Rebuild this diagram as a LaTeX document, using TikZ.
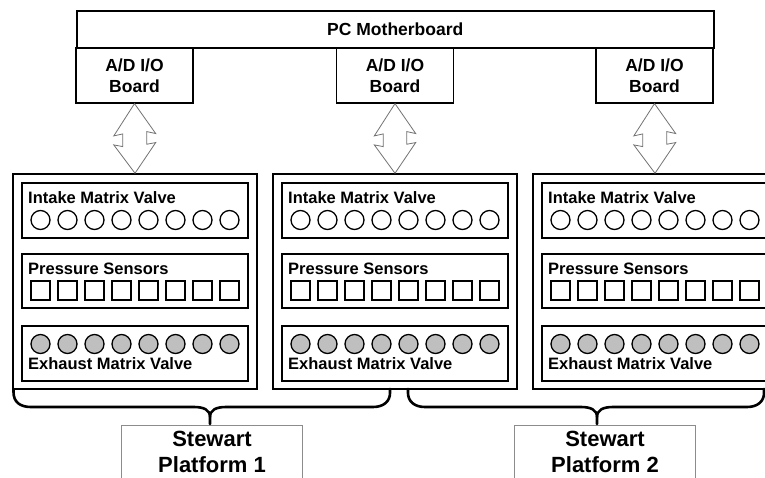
\documentclass[tikz,border=0pt]{standalone}
\usepackage{fontspec}
\setmainfont{Liberation Sans}
\begin{document}
\begin{tikzpicture}[x=1pt,y=-1pt,
  box/.style={draw, line width=1.6pt, inner sep=0pt, align=center},
  mbfont/.style={font=\bfseries\fontsize{17.5}{21}\selectfont},
  outerbox/.style={draw, line width=1.5pt, inner sep=0pt, minimum width=244pt, minimum height=215pt},
  innerbox/.style={draw, line width=1.6pt, inner sep=0pt, minimum width=226pt},
  lbl/.style={inner sep=0pt, anchor=west, font=\bfseries\fontsize{16.5}{20}\selectfont},
  valve/.style={circle, draw, line width=1.3pt, inner sep=0pt, minimum size=19pt},
  exvalve/.style={valve, fill=black!25},
  sensor/.style={draw, line width=1.3pt, inner sep=0pt, minimum size=19pt},
  dbl/.style={draw=black!55, line width=0.8pt, line join=miter},
  brace/.style={draw, line width=2.6pt, line cap=round, line join=round},
  spbox/.style={draw=black!45, line width=0.8pt, inner sep=0pt, align=center,
    minimum width=181pt, minimum height=54pt, anchor=north,
    font=\bfseries\fontsize{22}{26}\selectfont}
]
\clip (0,0) rectangle (765,477);
\fill[white] (0,0) rectangle (765,477);

% PC motherboard and A/D boards
\node[box, mbfont, minimum width=637pt, minimum height=37pt, anchor=north west] (mb) at (76,10) {PC Motherboard};
\foreach \p/\cx in {1/134.5,2/395,3/654.5} {
  \node[box, mbfont, minimum width=117pt, minimum height=55pt, anchor=north] (ad\p) at (\cx,47) {A/D I/O\\Board};
}

% platforms
\foreach \p/\cx in {1/135,2/395,3/655} {
  \node[outerbox] (p\p) at (\cx,281.5) {};
  \node[innerbox, minimum height=55pt] (in\p) at (\cx,210.5) {};
  \node[innerbox, minimum height=54pt] (ps\p) at (\cx,281) {};
  \node[innerbox, minimum height=55pt] (ex\p) at (\cx,353.5) {};
  \node[lbl] (inl\p) at (\cx-107,198) {Intake Matrix Valve};
  \node[lbl] (psl\p) at (\cx-107,269) {Pressure Sensors};
  \node[lbl] (exl\p) at (\cx-107,364) {Exhaust Matrix Valve};
  \foreach \i in {0,...,7} {
    \node[valve] (iv\p-\i) at (\cx-94.5+27*\i,220) {};
    \node[sensor] (s\p-\i) at (\cx-94.5+27*\i,290.5) {};
    \node[exvalve] (ev\p-\i) at (\cx-94.5+27*\i,344) {};
  }
  \draw[dbl] (ad\p.south) -- ++(-20.7,32.3) -- ++(9,-2) -- ++(0,12.7) -- ++(-9,-1.7)
     -- (p\p.north) -- ++(20.7,-30.7) -- ++(-9,1.7) -- ++(0,-12.7) -- ++(9,2) -- cycle;
}

% Stewart platform boxes
\node[spbox] (sp1) at (212,425) {Stewart\\Platform 1};
\node[spbox] (sp2) at (605,425) {Stewart\\Platform 2};

% braces
\coordinate (b1s) at (13.5,389);
\coordinate (b1e) at (390,389);
\coordinate (b1m) at (210,417);
\coordinate (b1t) at (210,424);
\coordinate (b2s) at (408,389);
\coordinate (b2e) at (764,389);
\coordinate (b2m) at (597,417);
\coordinate (b2t) at (597,424);
\draw[brace] (b1s) -- (13.5,392) .. controls (13.5,402) and (20,407) .. (31,407)
   -- (194,407) .. controls (204,407) and (210,410) .. (b1m) -- (b1t);
\draw[brace] (b1m) .. controls (210,410) and (216,407) .. (226,407)
   -- (373,407) .. controls (384,407) and (390,401) .. (390,393) -- (b1e);
\draw[brace] (b2s) -- (408,393) .. controls (408,401) and (414,407) .. (425,407)
   -- (581,407) .. controls (591,407) and (597,410) .. (b2m) -- (b2t);
\draw[brace] (b2m) .. controls (597,410) and (603,407) .. (613,407)
   -- (747,407) .. controls (758,407) and (764,401) .. (764,393) -- (b2e);
\end{tikzpicture}
\end{document}
